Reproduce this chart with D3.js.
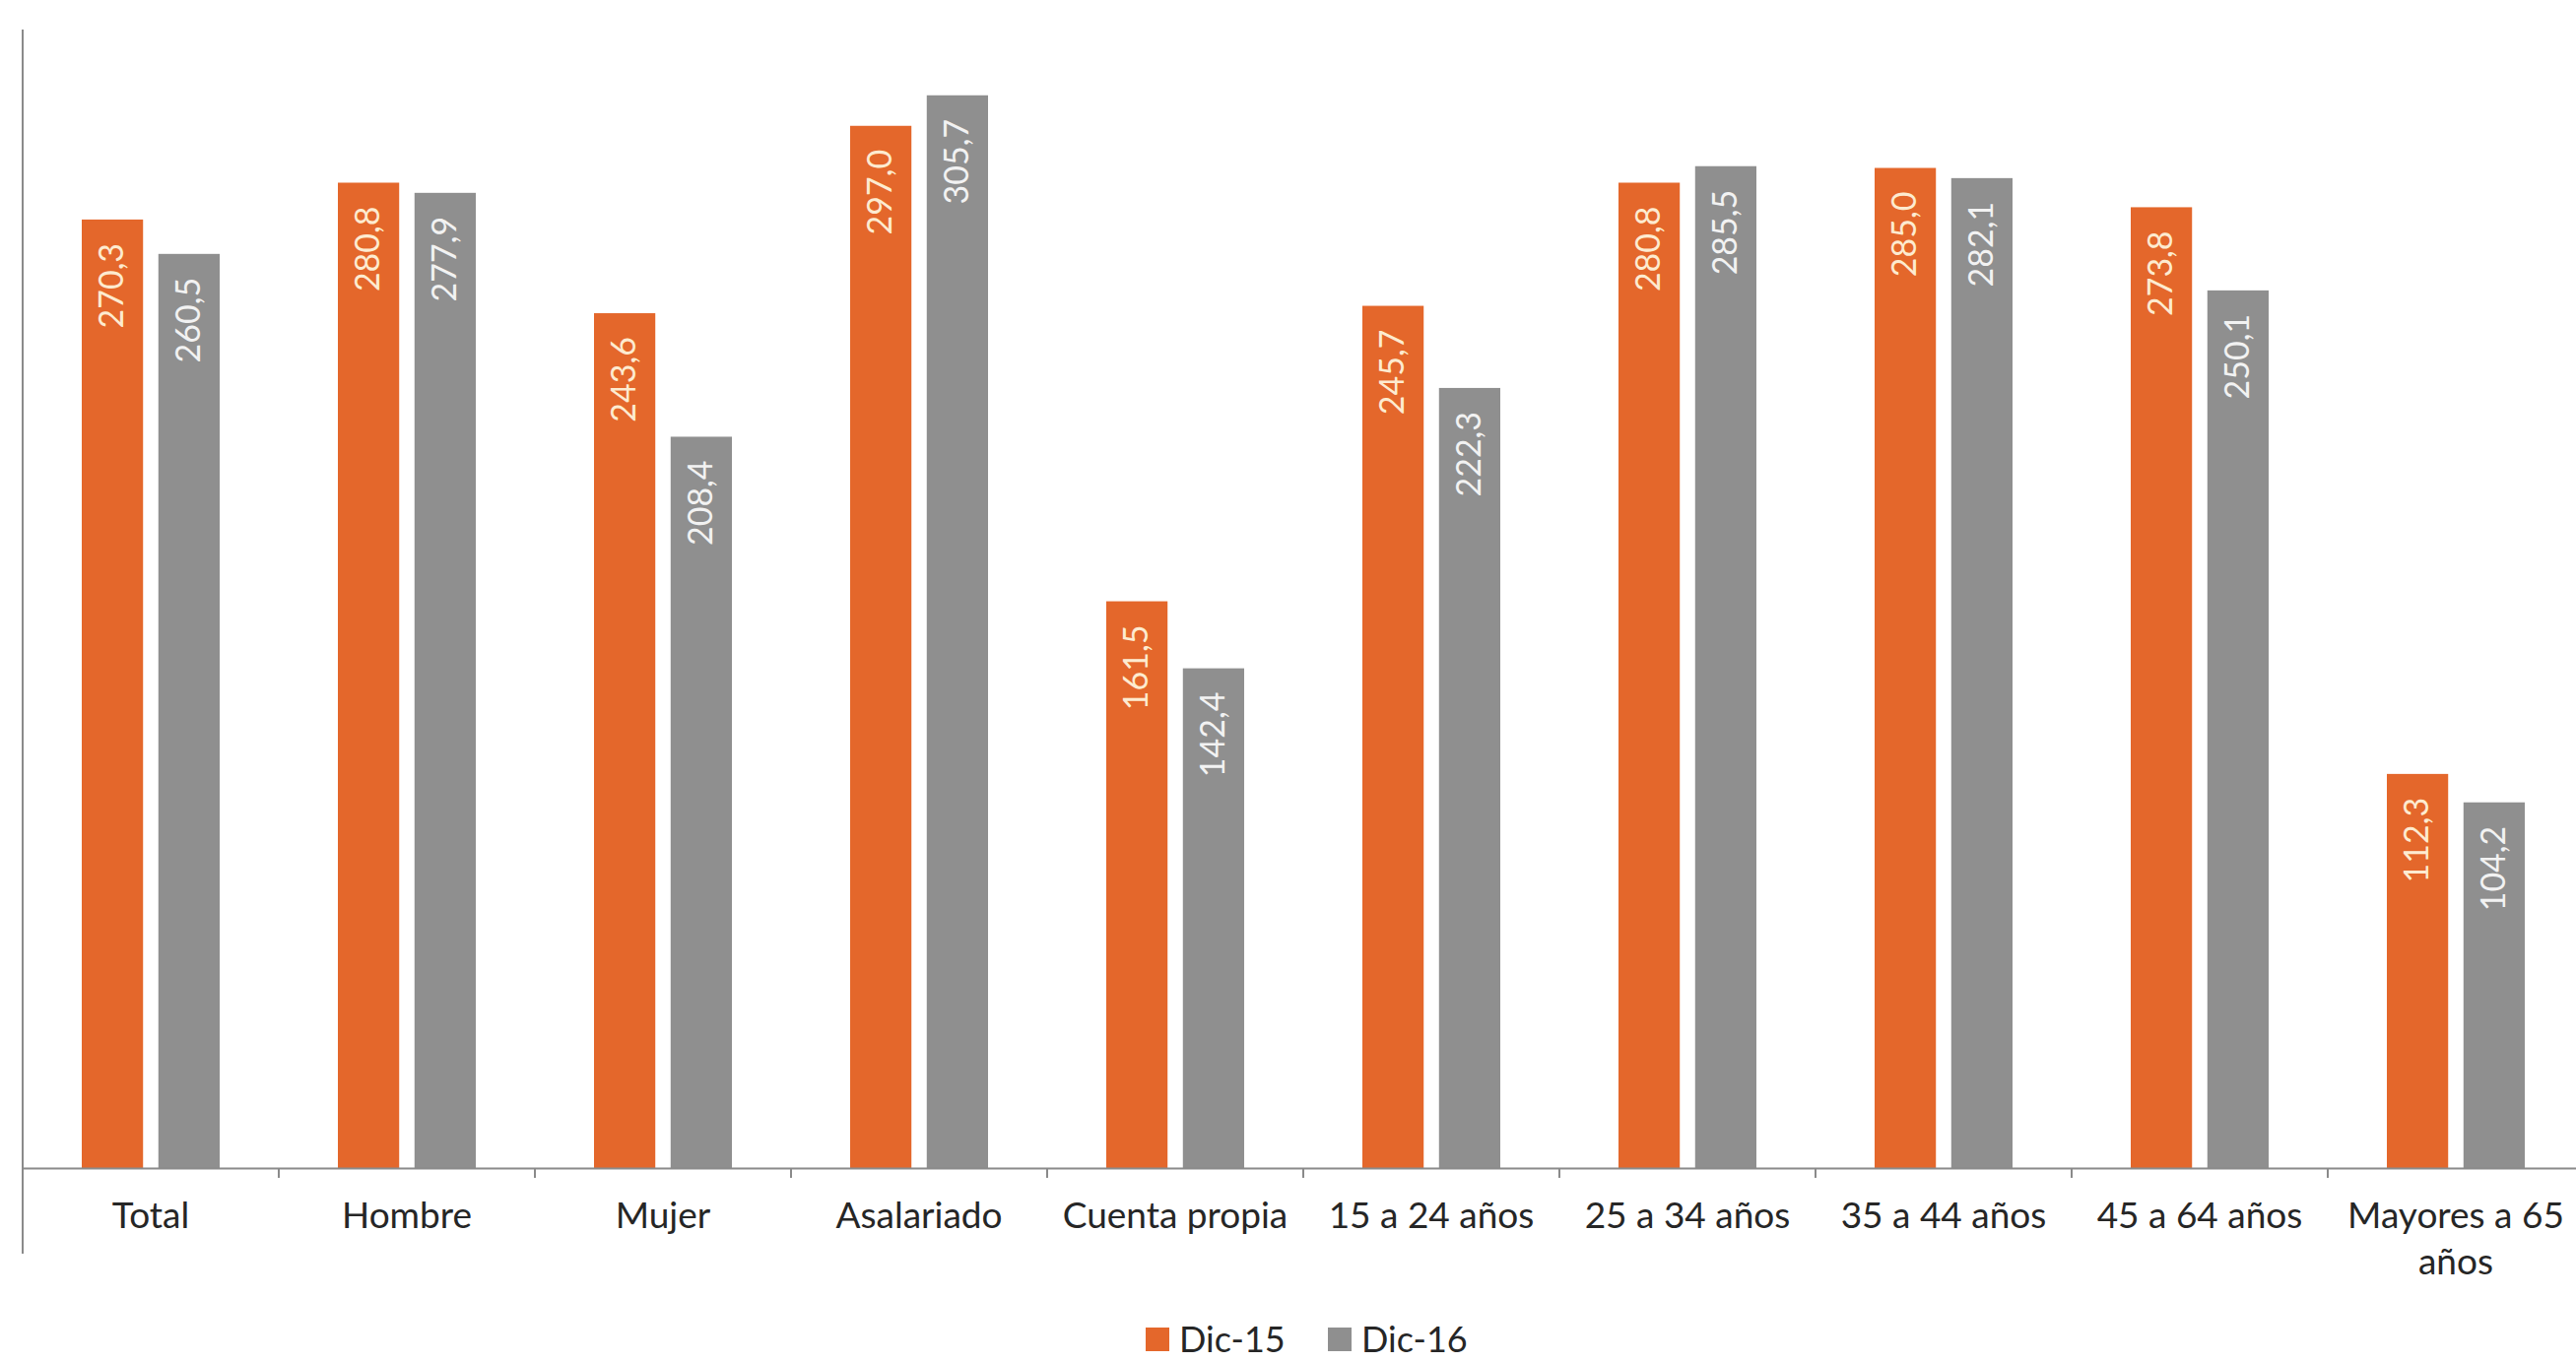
<!DOCTYPE html>
<html>
<head>
<meta charset="utf-8">
<script src="https://cdn.jsdelivr.net/npm/d3@7"></script>
<style>
  html, body { margin: 0; padding: 0; background: #ffffff; }
  svg { display: block; }
</style>
</head>
<body>
<svg id="chart" width="2615" height="1383"></svg>
<script>
const categories = ["Total", "Hombre", "Mujer", "Asalariado", "Cuenta propia", "15 a 24 años", "25 a 34 años", "35 a 44 años", "45 a 64 años", "Mayores a 65 años"];
const seriesNames = ["Dic-15", "Dic-16"];
const dic15 = [270.3, 280.8, 243.6, 297.0, 161.5, 245.7, 280.8, 285.0, 273.8, 112.3];
const dic16 = [260.5, 277.9, 208.4, 305.7, 142.4, 222.3, 285.5, 282.1, 250.1, 104.2];
const seriesValues = [dic15, dic16];
const colors = ["#E4672B", "#8F8F8F"];
const labelColors = ["#FDEBD0", "#F2F2F2"];

const W = 2615, H = 1383;
const svg = d3.select("#chart");
svg.append("rect").attr("width", W).attr("height", H).attr("fill", "#fff");

const left = 23, band = 260;
const x = d3.scaleBand().domain(categories).range([left, left + band * categories.length]).paddingInner(0).paddingOuter(0);
const xs = d3.scaleBand().domain(seriesNames).range([60, 200]).paddingInner(0.2);
const y = d3.scaleLinear().domain([0, 325]).range([1186, 28]);

const fmt = d3.formatLocale({decimal: ",", thousands: ".", grouping: [3], currency: ["", ""]}).format(".1f");

const rows = categories.map((c, i) => ({cat: c, vals: seriesNames.map((s, j) => ({s, j, v: seriesValues[j][i]}))}));

const groups = svg.append("g").selectAll("g").data(rows).join("g")
  .attr("transform", d => `translate(${x(d.cat)},0)`);

groups.selectAll("rect").data(d => d.vals).join("rect")
  .attr("x", d => xs(d.s))
  .attr("width", xs.bandwidth())
  .attr("y", d => y(d.v))
  .attr("height", d => y(0) - y(d.v))
  .attr("fill", d => colors[d.j]);

groups.selectAll("text").data(d => d.vals).join("text")
  .attr("transform", d => `translate(${xs(d.s) + xs.bandwidth() / 2 + 11},${y(d.v) + 24}) rotate(-90)`)
  .attr("text-anchor", "end")
  .attr("font-family", "Lato, 'Open Sans', sans-serif")
  .attr("font-size", 34)
  .attr("fill", d => labelColors[d.j])
  .text(d => fmt(d.v));

// Y axis line (no ticks/labels in reference)
svg.append("line")
  .attr("x1", left).attr("x2", left)
  .attr("y1", 30).attr("y2", 1273)
  .attr("stroke", "#8a8a8a").attr("stroke-width", 2);

// X axis
const xAxis = d3.axisBottom(x).tickSize(0).tickPadding(0).tickFormat("");
const gx = svg.append("g").attr("transform", `translate(0,${y(0)})`).call(xAxis);
gx.select(".domain").attr("stroke", "#8a8a8a").attr("stroke-width", 2);

// boundary ticks
gx.selectAll("line.bt").data(categories.slice(1)).join("line")
  .attr("class", "bt")
  .attr("x1", d => x(d)).attr("x2", d => x(d))
  .attr("y1", 0).attr("y2", 10)
  .attr("stroke", "#8a8a8a").attr("stroke-width", 2);

// category labels with wrapping
function wrapLines(t, maxW, ctx) {
  const words = t.split(" ");
  const lines = [];
  let cur = "";
  for (const w of words) {
    const test = cur ? cur + " " + w : w;
    if (ctx.measureText(test).width > maxW && cur) { lines.push(cur); cur = w; }
    else cur = test;
  }
  if (cur) lines.push(cur);
  return lines;
}
const canvas = document.createElement("canvas").getContext("2d");
canvas.font = "37px Lato";
const lbl = svg.append("g");
categories.forEach(c => {
  const lines = wrapLines(c, 250, canvas);
  const t = lbl.append("text")
    .attr("x", x(c) + x.bandwidth() / 2)
    .attr("y", 1247)
    .attr("text-anchor", "middle")
    .attr("font-family", "Lato, 'Open Sans', sans-serif")
    .attr("font-size", 37)
    .attr("fill", "#262626");
  lines.forEach((ln, k) => {
    t.append("tspan").attr("x", x(c) + x.bandwidth() / 2).attr("dy", k === 0 ? 0 : 47).text(ln);
  });
});

// Legend
const legendX = [1163, 1348];
const leg = svg.append("g").selectAll("g").data(seriesNames).join("g")
  .attr("transform", (d, i) => `translate(${legendX[i]},1348)`);
leg.append("rect").attr("width", 24).attr("height", 24).attr("fill", (d, i) => colors[i]);
leg.append("text").attr("x", 34).attr("y", 25)
  .attr("font-family", "Lato, 'Open Sans', sans-serif")
  .attr("font-size", 36).attr("fill", "#262626")
  .text(d => d);
</script>
</body>
</html>
